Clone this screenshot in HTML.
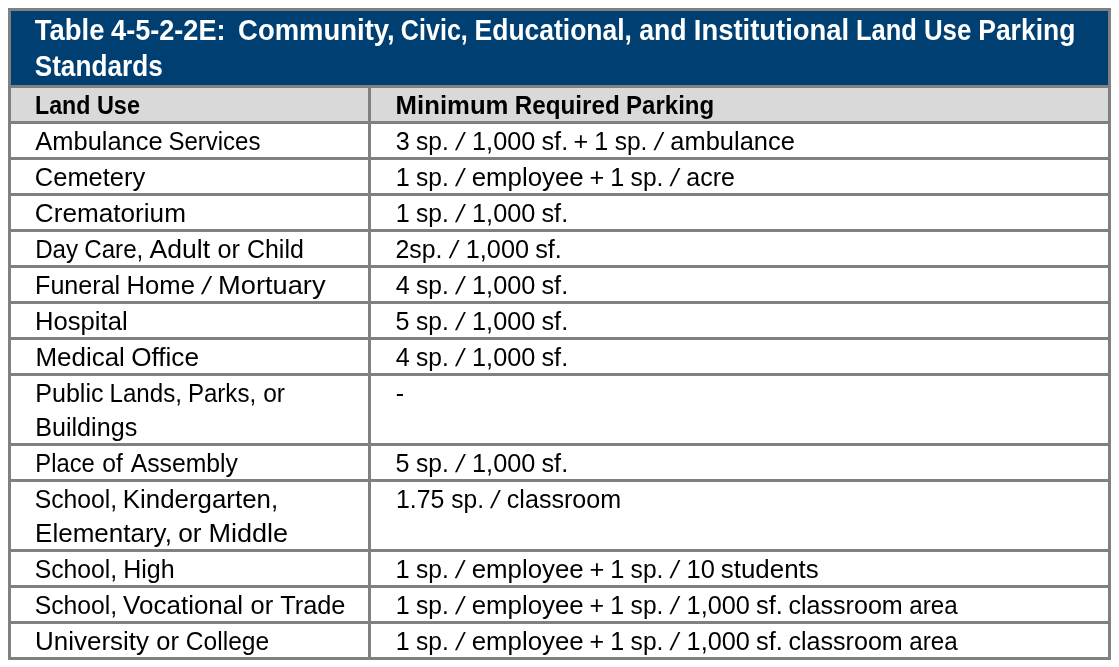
<!DOCTYPE html>
<html><head><meta charset="utf-8"><title>Table 4-5-2-2E: Community, Civic, Educational, and Institutional Land Use Parking Standards</title>
<style>html,body{margin:0;padding:0;background:#fff;width:1119px;height:667px;overflow:hidden}svg{display:block;will-change:transform}text{font-family:"Liberation Sans",sans-serif}</style></head><body>
<svg width="1119" height="667" viewBox="0 0 1119 667">
<rect x="8" y="8" width="1103" height="652" fill="#808080"/>
<rect x="11" y="11" width="1097" height="74" fill="#003f72"/>
<rect x="11" y="88" width="357" height="33" fill="#d9d9d9"/>
<rect x="371" y="88" width="737" height="33" fill="#d9d9d9"/>
<rect x="11" y="124" width="357" height="33" fill="#ffffff"/>
<rect x="371" y="124" width="737" height="33" fill="#ffffff"/>
<rect x="11" y="160" width="357" height="33" fill="#ffffff"/>
<rect x="371" y="160" width="737" height="33" fill="#ffffff"/>
<rect x="11" y="196" width="357" height="33" fill="#ffffff"/>
<rect x="371" y="196" width="737" height="33" fill="#ffffff"/>
<rect x="11" y="232" width="357" height="33" fill="#ffffff"/>
<rect x="371" y="232" width="737" height="33" fill="#ffffff"/>
<rect x="11" y="268" width="357" height="33" fill="#ffffff"/>
<rect x="371" y="268" width="737" height="33" fill="#ffffff"/>
<rect x="11" y="304" width="357" height="33" fill="#ffffff"/>
<rect x="371" y="304" width="737" height="33" fill="#ffffff"/>
<rect x="11" y="340" width="357" height="33" fill="#ffffff"/>
<rect x="371" y="340" width="737" height="33" fill="#ffffff"/>
<rect x="11" y="376" width="357" height="67" fill="#ffffff"/>
<rect x="371" y="376" width="737" height="67" fill="#ffffff"/>
<rect x="11" y="446" width="357" height="33" fill="#ffffff"/>
<rect x="371" y="446" width="737" height="33" fill="#ffffff"/>
<rect x="11" y="482" width="357" height="67" fill="#ffffff"/>
<rect x="371" y="482" width="737" height="67" fill="#ffffff"/>
<rect x="11" y="552" width="357" height="33" fill="#ffffff"/>
<rect x="371" y="552" width="737" height="33" fill="#ffffff"/>
<rect x="11" y="588" width="357" height="33" fill="#ffffff"/>
<rect x="371" y="588" width="737" height="33" fill="#ffffff"/>
<rect x="11" y="624" width="357" height="33" fill="#ffffff"/>
<rect x="371" y="624" width="737" height="33" fill="#ffffff"/>
<g font-size="28" font-weight="bold" fill="#ffffff"><text transform="translate(34.82,40) scale(0.9806,1.05)">Table </text><text transform="translate(111.06,40) scale(0.9683,1.05)">4-5-2-2E: </text><text transform="translate(238.06,40) scale(0.9807,1.05)">Community, </text><text transform="translate(400.87,40) scale(0.8964,1.05)">Civic, </text><text transform="translate(474.55,40) scale(0.9462,1.05)">Educational, </text><text transform="translate(639.16,40) scale(0.9524,1.05)">and </text><text transform="translate(693.79,40) scale(0.9796,1.05)">Institutional </text><text transform="translate(855.91,40) scale(0.9114,1.05)">Land </text><text transform="translate(923.97,40) scale(0.9229,1.05)">Use </text><text transform="translate(978.25,40) scale(0.9454,1.05)">Parking</text></g>
<g font-size="28" font-weight="bold" fill="#ffffff"><text transform="translate(34.67,76) scale(0.9354,1.05)">Standards</text></g>
<g font-size="25" font-weight="bold" fill="#000000"><text transform="translate(35.05,114) scale(0.9273,1.0)">Land </text><text transform="translate(96.91,114) scale(0.9395,1.0)">Use</text></g>
<g font-size="25" font-weight="bold" fill="#000000"><text transform="translate(395.59,114) scale(1.0293,1.0)">Minimum </text><text transform="translate(514.71,114) scale(0.9697,1.0)">Required </text><text transform="translate(626.07,114) scale(0.9611,1.0)">Parking</text></g>
<g font-size="25" font-weight="normal" fill="#000000"><text transform="translate(35.31,150) scale(1.0184,1.0)">Ambulance </text><text transform="translate(168.43,150) scale(0.9601,1.0)">Services</text></g>
<g font-size="25" font-weight="normal" fill="#000000"><text transform="translate(395.73,150) scale(1.0076,1.0)">3 </text><text transform="translate(416.09,150) scale(0.9818,1.0)">sp. </text><text transform="translate(454.88,150) skewX(-12.0) scale(1.0076,1.0)">/ </text><text transform="translate(472.06,150) scale(1.0114,1.0)">1,000 </text><text transform="translate(541.45,150) scale(1.0142,1.0)">sf. </text><text transform="translate(573.52,150) scale(1.0076,1.0)">+ </text><text transform="translate(594.24,150) scale(1.0076,1.0)">1 </text><text transform="translate(614.64,150) scale(0.9818,1.0)">sp. </text><text transform="translate(653.43,150) skewX(-12.0) scale(1.0076,1.0)">/ </text><text transform="translate(670.35,150) scale(1.0185,1.0)">ambulance</text></g>
<g font-size="25" font-weight="normal" fill="#000000"><text transform="translate(34.84,186) scale(1.0188,1.0)">Cemetery</text></g>
<g font-size="25" font-weight="normal" fill="#000000"><text transform="translate(395.68,186) scale(1.0090,1.0)">1 </text><text transform="translate(416.09,186) scale(0.9818,1.0)">sp. </text><text transform="translate(454.88,186) skewX(-12.0) scale(1.0090,1.0)">/ </text><text transform="translate(471.67,186) scale(1.0344,1.0)">employee </text><text transform="translate(589.49,186) scale(1.0090,1.0)">+ </text><text transform="translate(610.21,186) scale(1.0090,1.0)">1 </text><text transform="translate(630.61,186) scale(0.9818,1.0)">sp. </text><text transform="translate(669.40,186) skewX(-12.0) scale(1.0090,1.0)">/ </text><text transform="translate(686.35,186) scale(0.9989,1.0)">acre</text></g>
<g font-size="25" font-weight="normal" fill="#000000"><text transform="translate(34.80,222) scale(1.0462,1.0)">Crematorium</text></g>
<g font-size="25" font-weight="normal" fill="#000000"><text transform="translate(395.70,222) scale(1.0060,1.0)">1 </text><text transform="translate(416.09,222) scale(0.9818,1.0)">sp. </text><text transform="translate(454.89,222) skewX(-12.0) scale(1.0060,1.0)">/ </text><text transform="translate(472.06,222) scale(1.0114,1.0)">1,000 </text><text transform="translate(541.45,222) scale(1.0142,1.0)">sf.</text></g>
<g font-size="25" font-weight="normal" fill="#000000"><text transform="translate(35.15,258) scale(0.9685,1.0)">Day </text><text transform="translate(84.19,258) scale(0.9673,1.0)">Care, </text><text transform="translate(149.48,258) scale(1.0641,1.0)">Adult </text><text transform="translate(217.60,258) scale(1.0076,1.0)">or </text><text transform="translate(246.94,258) scale(0.9987,1.0)">Child</text></g>
<g font-size="25" font-weight="normal" fill="#000000"><text transform="translate(395.51,258) scale(0.9941,1.0)">2sp. </text><text transform="translate(448.63,258) skewX(-12.0) scale(1.0000,1.0)">/ </text><text transform="translate(465.78,258) scale(1.0113,1.0)">1,000 </text><text transform="translate(535.17,258) scale(1.0138,1.0)">sf.</text></g>
<g font-size="25" font-weight="normal" fill="#000000"><text transform="translate(35.06,294) scale(1.0042,1.0)">Funeral </text><text transform="translate(126.54,294) scale(1.0255,1.0)">Home </text><text transform="translate(201.08,294) skewX(-12.0) scale(1.0473,1.0)">/ </text><text transform="translate(218.10,294) scale(1.0899,1.0)">Mortuary</text></g>
<g font-size="25" font-weight="normal" fill="#000000"><text transform="translate(395.64,294) scale(1.0060,1.0)">4 </text><text transform="translate(416.09,294) scale(0.9818,1.0)">sp. </text><text transform="translate(454.89,294) skewX(-12.0) scale(1.0060,1.0)">/ </text><text transform="translate(472.06,294) scale(1.0114,1.0)">1,000 </text><text transform="translate(541.45,294) scale(1.0142,1.0)">sf.</text></g>
<g font-size="25" font-weight="normal" fill="#000000"><text transform="translate(35.05,330) scale(1.0254,1.0)">Hospital</text></g>
<g font-size="25" font-weight="normal" fill="#000000"><text transform="translate(395.44,330) scale(1.0060,1.0)">5 </text><text transform="translate(416.09,330) scale(0.9818,1.0)">sp. </text><text transform="translate(454.89,330) skewX(-12.0) scale(1.0060,1.0)">/ </text><text transform="translate(472.06,330) scale(1.0114,1.0)">1,000 </text><text transform="translate(541.45,330) scale(1.0142,1.0)">sf.</text></g>
<g font-size="25" font-weight="normal" fill="#000000"><text transform="translate(35.39,366) scale(1.0396,1.0)">Medical </text><text transform="translate(131.19,366) scale(1.0458,1.0)">Office</text></g>
<g font-size="25" font-weight="normal" fill="#000000"><text transform="translate(395.64,366) scale(1.0060,1.0)">4 </text><text transform="translate(416.09,366) scale(0.9818,1.0)">sp. </text><text transform="translate(454.89,366) skewX(-12.0) scale(1.0060,1.0)">/ </text><text transform="translate(472.06,366) scale(1.0114,1.0)">1,000 </text><text transform="translate(541.45,366) scale(1.0142,1.0)">sf.</text></g>
<g font-size="25" font-weight="normal" fill="#000000"><text transform="translate(35.19,402) scale(1.0046,1.0)">Public </text><text transform="translate(109.52,402) scale(0.9657,1.0)">Lands, </text><text transform="translate(187.96,402) scale(0.9623,1.0)">Parks, </text><text transform="translate(263.24,402) scale(0.9804,1.0)">or</text></g>
<g font-size="25" font-weight="normal" fill="#000000"><text transform="translate(35.14,436) scale(1.0066,1.0)">Buildings</text></g>
<g font-size="25" font-weight="normal" fill="#000000"><text transform="translate(395.64,402) scale(1.0000,1.0)">-</text></g>
<g font-size="25" font-weight="normal" fill="#000000"><text transform="translate(35.30,472) scale(0.9519,1.0)">Place </text><text transform="translate(102.35,472) scale(0.9901,1.0)">of </text><text transform="translate(130.67,472) scale(0.9897,1.0)">Assembly</text></g>
<g font-size="25" font-weight="normal" fill="#000000"><text transform="translate(395.44,472) scale(1.0060,1.0)">5 </text><text transform="translate(416.09,472) scale(0.9818,1.0)">sp. </text><text transform="translate(454.89,472) skewX(-12.0) scale(1.0060,1.0)">/ </text><text transform="translate(472.06,472) scale(1.0114,1.0)">1,000 </text><text transform="translate(541.45,472) scale(1.0142,1.0)">sf.</text></g>
<g font-size="25" font-weight="normal" fill="#000000"><text transform="translate(34.71,508) scale(0.9899,1.0)">School, </text><text transform="translate(122.87,508) scale(1.0348,1.0)">Kindergarten,</text></g>
<g font-size="25" font-weight="normal" fill="#000000"><text transform="translate(35.09,542) scale(1.0410,1.0)">Elementary, </text><text transform="translate(178.22,542) scale(1.0504,1.0)">or </text><text transform="translate(208.50,542) scale(1.0823,1.0)">Middle</text></g>
<g font-size="25" font-weight="normal" fill="#000000"><text transform="translate(395.91,508) scale(0.9945,1.0)">1.75 </text><text transform="translate(451.28,508) scale(0.9818,1.0)">sp. </text><text transform="translate(490.09,508) skewX(-12.0) scale(1.0045,1.0)">/ </text><text transform="translate(506.81,508) scale(1.0041,1.0)">classroom</text></g>
<g font-size="25" font-weight="normal" fill="#000000"><text transform="translate(34.71,578) scale(0.9899,1.0)">School, </text><text transform="translate(123.16,578) scale(1.0008,1.0)">High</text></g>
<g font-size="25" font-weight="normal" fill="#000000"><text transform="translate(395.62,578) scale(1.0169,1.0)">1 </text><text transform="translate(416.09,578) scale(0.9818,1.0)">sp. </text><text transform="translate(454.85,578) skewX(-12.0) scale(1.0169,1.0)">/ </text><text transform="translate(471.67,578) scale(1.0344,1.0)">employee </text><text transform="translate(589.43,578) scale(1.0169,1.0)">+ </text><text transform="translate(610.15,578) scale(1.0169,1.0)">1 </text><text transform="translate(630.61,578) scale(0.9818,1.0)">sp. </text><text transform="translate(669.38,578) skewX(-12.0) scale(1.0169,1.0)">/ </text><text transform="translate(686.52,578) scale(1.0169,1.0)">10 </text><text transform="translate(720.84,578) scale(1.0364,1.0)">students</text></g>
<g font-size="25" font-weight="normal" fill="#000000"><text transform="translate(34.71,614) scale(0.9899,1.0)">School, </text><text transform="translate(123.08,614) scale(1.0404,1.0)">Vocational </text><text transform="translate(250.51,614) scale(1.0199,1.0)">or </text><text transform="translate(280.15,614) scale(1.0147,1.0)">Trade</text></g>
<g font-size="25" font-weight="normal" fill="#000000"><text transform="translate(395.75,614) scale(1.0000,1.0)">1 </text><text transform="translate(416.09,614) scale(0.9818,1.0)">sp. </text><text transform="translate(454.91,614) skewX(-12.0) scale(1.0000,1.0)">/ </text><text transform="translate(471.67,614) scale(1.0344,1.0)">employee </text><text transform="translate(589.56,614) scale(1.0000,1.0)">+ </text><text transform="translate(610.27,614) scale(1.0000,1.0)">1 </text><text transform="translate(630.61,614) scale(0.9818,1.0)">sp. </text><text transform="translate(669.44,614) skewX(-12.0) scale(1.0000,1.0)">/ </text><text transform="translate(686.59,614) scale(1.0113,1.0)">1,000 </text><text transform="translate(755.98,614) scale(1.0142,1.0)">sf. </text><text transform="translate(788.38,614) scale(1.0041,1.0)">classroom </text><text transform="translate(909.32,614) scale(0.9653,1.0)">area</text></g>
<g font-size="25" font-weight="normal" fill="#000000"><text transform="translate(35.02,650) scale(1.0391,1.0)">University </text><text transform="translate(156.37,650) scale(1.0176,1.0)">or </text><text transform="translate(185.85,650) scale(0.9828,1.0)">College</text></g>
<g font-size="25" font-weight="normal" fill="#000000"><text transform="translate(395.75,650) scale(1.0000,1.0)">1 </text><text transform="translate(416.09,650) scale(0.9818,1.0)">sp. </text><text transform="translate(454.91,650) skewX(-12.0) scale(1.0000,1.0)">/ </text><text transform="translate(471.67,650) scale(1.0344,1.0)">employee </text><text transform="translate(589.56,650) scale(1.0000,1.0)">+ </text><text transform="translate(610.27,650) scale(1.0000,1.0)">1 </text><text transform="translate(630.61,650) scale(0.9818,1.0)">sp. </text><text transform="translate(669.44,650) skewX(-12.0) scale(1.0000,1.0)">/ </text><text transform="translate(686.59,650) scale(1.0113,1.0)">1,000 </text><text transform="translate(755.98,650) scale(1.0142,1.0)">sf. </text><text transform="translate(788.38,650) scale(1.0041,1.0)">classroom </text><text transform="translate(909.32,650) scale(0.9653,1.0)">area</text></g>
</svg>
</body></html>
